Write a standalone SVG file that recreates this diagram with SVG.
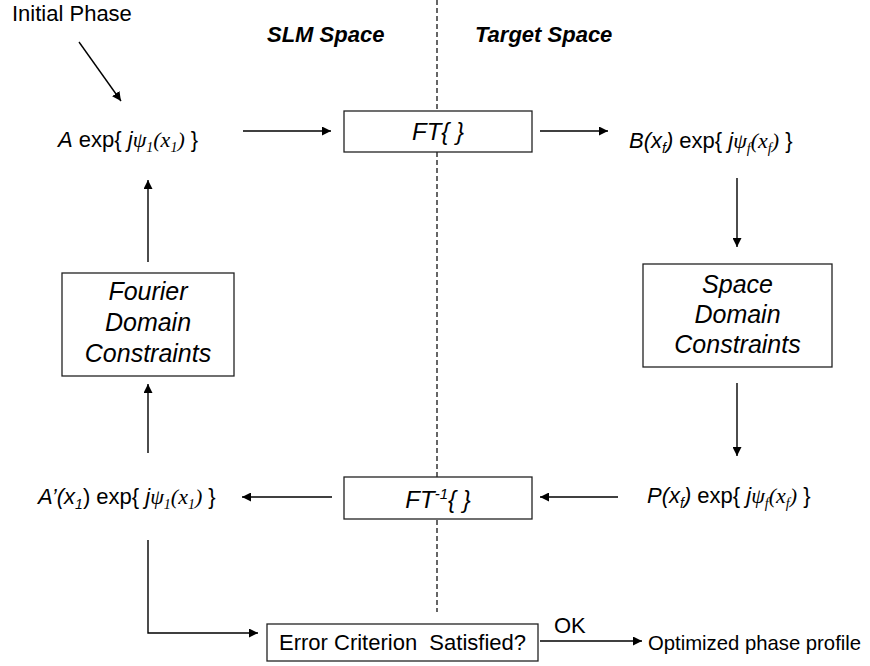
<svg xmlns="http://www.w3.org/2000/svg" width="870" height="666" viewBox="0 0 870 666">
<style>
text{font-family:"Liberation Sans",Arial,sans-serif;fill:#000}
.t{font-size:22px}
.i{font-style:italic}
.s{font-family:"Liberation Serif","Times New Roman",serif;font-style:italic}
.sub{font-size:14px}
.hd{font-size:22px;font-weight:bold;font-style:italic}
.bx{font-size:25px;font-style:italic}
.box{fill:#fff;stroke:#222;stroke-width:1.3}
.ln{fill:none;stroke:#000;stroke-width:1.4}
.dash{fill:none;stroke:#000;stroke-width:1.2;stroke-dasharray:5 3}
</style>
<defs>
<marker id="ah" viewBox="0 0 10 10" refX="10" refY="5" markerWidth="9" markerHeight="9" markerUnits="userSpaceOnUse" orient="auto">
<path d="M0,0 L10,5 L0,10 Z" fill="#000"/>
</marker>
</defs>
<rect width="870" height="666" fill="#fff"/>
<g id="headers">
<text class="hd" x="267" y="42">SLM Space</text>
<text class="hd" x="475" y="42">Target Space</text>
<line class="dash" x1="437" y1="0" x2="437" y2="612"/>
</g>
<g id="initial"><text class="t" x="12" y="21">Initial Phase</text></g>
<g id="a-exp">
<text class="t" x="58" y="147"><tspan class="i">A</tspan> exp{ <tspan class="i">j</tspan><tspan class="s">ψ</tspan><tspan class="s sub" dy="5">1</tspan><tspan class="s" dy="-5">(x</tspan><tspan class="s sub" dy="5">1</tspan><tspan class="s" dy="-5">)</tspan> }</text>
</g>
<g id="ft">
<rect class="box" x="344" y="111" width="188" height="41"/>
<text class="i" font-size="24" x="438" y="140" text-anchor="middle">FT{ }</text>
</g>
<g id="b-exp">
<text class="t" x="629" y="148"><tspan class="i">B(x</tspan><tspan class="i sub" dy="5">f</tspan><tspan class="i" dy="-5">)</tspan> exp{ <tspan class="i">j</tspan><tspan class="s">ψ</tspan><tspan class="s sub" dy="5">f</tspan><tspan class="s" dy="-5">(x</tspan><tspan class="s sub" dy="5">f</tspan><tspan class="s" dy="-5">)</tspan> }</text>
</g>
<g id="space-constraints">
<rect class="box" x="643" y="264" width="189" height="103"/>
<text class="bx" x="737.5" y="293" text-anchor="middle">Space</text>
<text class="bx" x="737.5" y="323" text-anchor="middle">Domain</text>
<text class="bx" x="737.5" y="353" text-anchor="middle">Constraints</text>
</g>
<g id="fourier-constraints">
<rect class="box" x="62" y="273" width="172" height="103"/>
<text class="bx" x="148" y="300" text-anchor="middle">Fourier</text>
<text class="bx" x="148" y="331" text-anchor="middle">Domain</text>
<text class="bx" x="148" y="362" text-anchor="middle">Constraints</text>
</g>
<g id="p-exp">
<text class="t" x="647" y="503"><tspan class="i">P(x</tspan><tspan class="i sub" dy="5">f</tspan><tspan class="i" dy="-5">)</tspan> exp{ <tspan class="i">j</tspan><tspan class="s">ψ</tspan><tspan class="s sub" dy="5">f</tspan><tspan class="s" dy="-5">(x</tspan><tspan class="s sub" dy="5">f</tspan><tspan class="s" dy="-5">)</tspan> }</text>
</g>
<g id="ift">
<rect class="box" x="344" y="477" width="188" height="42"/>
<text class="i" font-size="24" x="438" y="508" text-anchor="middle">FT<tspan font-size="15" dy="-9">-1</tspan><tspan dy="9">{ }</tspan></text>
</g>
<g id="a-prime">
<text class="t" x="38" y="504"><tspan class="i">A’(x</tspan><tspan class="i sub" dy="5">1</tspan><tspan dy="-5">)</tspan> exp{ <tspan class="i">j</tspan><tspan class="s">ψ</tspan><tspan class="s sub" dy="5">1</tspan><tspan class="s" dy="-5">(x</tspan><tspan class="s sub" dy="5">1</tspan><tspan class="s" dy="-5">)</tspan> }</text>
</g>
<g id="error">
<rect class="box" x="267" y="624" width="271" height="37"/>
<text class="t" x="402.5" y="650" text-anchor="middle">Error Criterion&#160; Satisfied?</text>
</g>
<g id="optimized"><text font-size="20.3" x="648" y="650">Optimized phase profile</text></g>
<g id="connectors">
<line class="ln" x1="79" y1="42" x2="121" y2="101" marker-end="url(#ah)"/>
<line class="ln" x1="243" y1="131" x2="331" y2="131" marker-end="url(#ah)"/>
<line class="ln" x1="540" y1="131" x2="608" y2="131" marker-end="url(#ah)"/>
<line class="ln" x1="737" y1="178" x2="737" y2="247" marker-end="url(#ah)"/>
<line class="ln" x1="737" y1="383" x2="737" y2="456" marker-end="url(#ah)"/>
<line class="ln" x1="618" y1="497" x2="540" y2="497" marker-end="url(#ah)"/>
<line class="ln" x1="332" y1="497" x2="242" y2="497" marker-end="url(#ah)"/>
<line class="ln" x1="148" y1="453" x2="148" y2="384" marker-end="url(#ah)"/>
<line class="ln" x1="148" y1="262" x2="148" y2="180" marker-end="url(#ah)"/>
<polyline class="ln" points="148,540 148,633 258,633" marker-end="url(#ah)"/>
<line class="ln" x1="540" y1="641" x2="642" y2="641" marker-end="url(#ah)"/>
<text class="t" x="554" y="633">OK</text>
</g>
</svg>
